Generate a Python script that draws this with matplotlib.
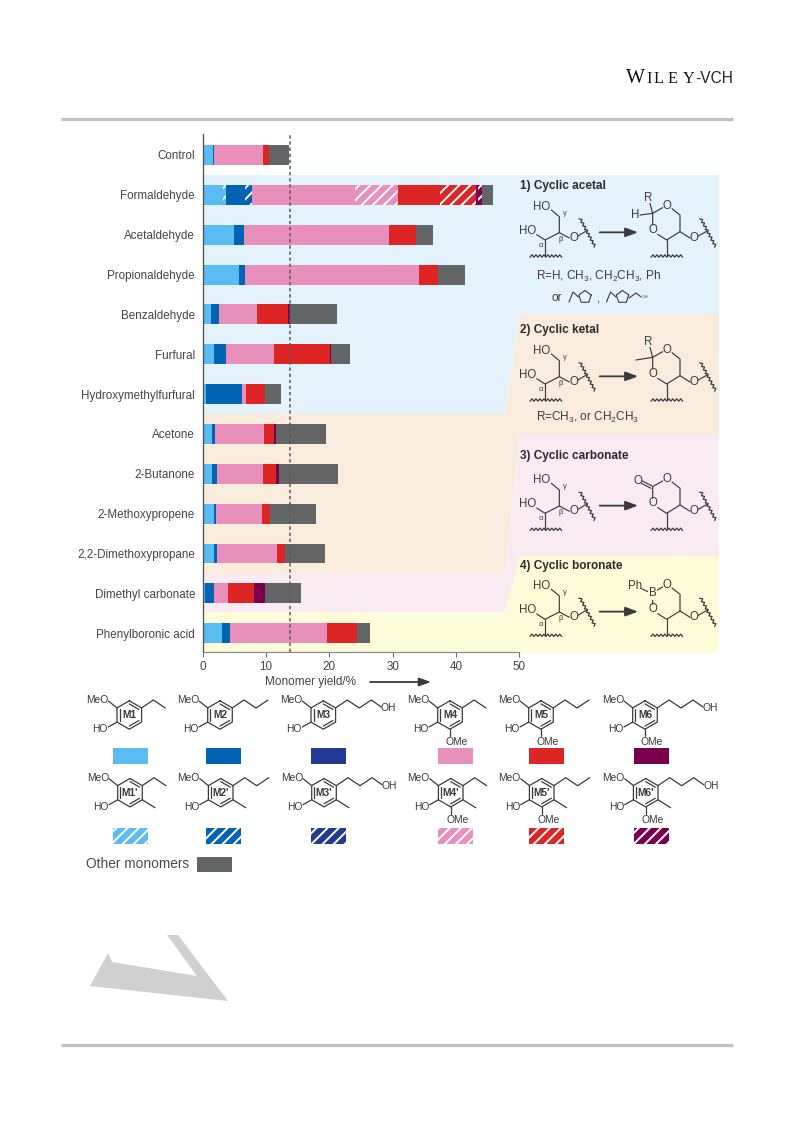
import numpy as np
import matplotlib
matplotlib.use('Agg')
import matplotlib.pyplot as plt
from matplotlib.patches import Polygon, Rectangle

plt.rcParams['font.family'] = ['Liberation Sans', 'DejaVu Sans']
plt.rcParams['mathtext.default'] = 'regular'
plt.rcParams['hatch.linewidth'] = 1.4

W, H = 793, 1121
DARK = '#3a3a3c'
HATCH = '///'

categories = ['Control', 'Formaldehyde', 'Acetaldehyde', 'Propionaldehyde', 'Benzaldehyde',
              'Furfural', 'Hydroxymethylfurfural', 'Acetone', '2-Butanone', '2-Methoxypropene',
              '2,2-Dimethoxypropane', 'Dimethyl carbonate', 'Phenylboronic acid']

# segment widths, monomer yield in %
m1 = [1.55, 3.25, 4.9, 5.8, 1.3, 1.75, 0.6, 1.45, 1.45, 1.75, 1.75, 0.4, 3.0]
m1p = [0, 0.45, 0, 0, 0, 0, 0, 0, 0, 0, 0, 0, 0]
m2 = [0.2, 3.0, 1.7, 0.9, 1.2, 1.95, 5.6, 0.55, 0.85, 0.4, 0.55, 1.35, 1.3]
m2p = [0, 1.1, 0, 0, 0, 0, 0, 0, 0, 0, 0, 0, 0]
m4 = [7.75, 16.25, 22.9, 27.5, 6.1, 7.55, 0.7, 7.65, 7.2, 7.25, 9.5, 2.3, 15.3]
m4p = [0, 6.75, 0, 0, 0, 0, 0, 0, 0, 0, 0, 0, 0]
m5 = [1.0, 6.65, 4.2, 3.0, 4.95, 8.8, 2.9, 1.6, 2.05, 1.25, 1.2, 4.05, 4.8]
m5p = [0, 5.75, 0, 0, 0, 0, 0, 0, 0, 0, 0, 0, 0]
m6 = [0, 0.25, 0, 0, 0.25, 0.25, 0, 0.4, 0.55, 0, 0, 1.8, 0]
m6p = [0, 0.6, 0, 0, 0, 0, 0, 0, 0, 0, 0, 0, 0]
other = [3.1, 1.75, 2.7, 4.2, 7.4, 2.9, 2.6, 7.8, 9.2, 7.2, 6.3, 5.55, 2.1]
control_yield = 13.76

C_M1, C_M2, C_M3, C_M4, C_M5, C_M6 = '#5bbcf2', '#0063b4', '#233a95', '#e88fbb', '#de2525', '#7a004e'
C_OTHER = '#636466'

series = [(m1, C_M1, False), (m1p, C_M1, True), (m2, C_M2, False), (m2p, C_M2, True),
          (m4, C_M4, False), (m4p, C_M4, True), (m5, C_M5, False), (m5p, C_M5, True),
          (m6, C_M6, False), (m6p, C_M6, True), (other, C_OTHER, False)]

fig = plt.figure(figsize=(W / 100, H / 100), dpi=100)

# page layer in pixel coordinates, for everything that is not the bar chart
pg = fig.add_axes([0, 0, 1, 1], zorder=0)
pg.set_xlim(0, W)
pg.set_ylim(H, 0)
pg.axis('off')

pg.plot([61, 733], [119, 119], color='#c0c0c0', lw=2.3, solid_capstyle='butt')
pg.plot([61, 733], [1045, 1045], color='#c0c0c0', lw=2.3, solid_capstyle='butt')
pg.text(626, 83, 'W', family='Liberation Serif', fontsize=14.5, color='#111111', va='baseline')
for lx, letter in zip([646, 654, 668, 683], 'ILEY'):
    pg.text(lx, 83, letter, family='Liberation Serif', fontsize=11.8, color='#111111', va='baseline')
pg.text(733, 83, '-VCH', fontsize=11.2, color='#222222', va='baseline', ha='right')

# grey watermark fragment
pg.add_patch(Polygon([(167, 935), (178, 935), (228, 1001), (90, 986), (108, 953), (112, 962),
                      (197, 976)], fc='#cfd0cf', ec='none'))

# coloured bands behind the chart and the scheme
pg.add_patch(Polygon([(203, 175), (719, 175), (719, 314), (520, 314), (505, 414), (203, 414)],
                     fc='#e4f3fb', ec='none'))
pg.add_patch(Polygon([(203, 414), (505, 414), (520, 314), (719, 314), (719, 435), (520, 435),
                      (505, 574), (203, 574)], fc='#faecdc', ec='none'))
pg.add_patch(Polygon([(203, 574), (505, 574), (520, 435), (719, 435), (719, 556), (520, 556),
                      (505, 612), (203, 612)], fc='#faebf3', ec='none'))
pg.add_patch(Polygon([(203, 612), (505, 612), (520, 556), (719, 556), (719, 653), (203, 653)],
                     fc='#fefcd8', ec='none'))


def bond(pts, lw=0.85, color=DARK):
    pts = np.array(pts, dtype=float)
    pg.plot(pts[:, 0], pts[:, 1], color=color, lw=lw, solid_capstyle='round', solid_joinstyle='round')


def wavy(p0, p1, n=8, amp=1.2):
    p0, p1 = np.array(p0, float), np.array(p1, float)
    t = np.linspace(0, 1, 2 * n + 1)
    d = p1 - p0
    nrm = np.array([-d[1], d[0]]) / np.hypot(*d)
    sign = np.where(np.arange(2 * n + 1) % 2 == 0, 1, -1)
    pts = p0 + np.outer(t, d) + np.outer(sign * amp, nrm)
    bond(pts, lw=0.9)


def atom(x, y, s, size=8.3, **kw):
    pg.text(x, y, s, fontsize=size, color=DARK, ha='center', va='center', **kw)


def scheme(dy, title, kind, title_y):
    def z(x, y):
        return 510 + x / 3, 170 + y / 3 + dy

    pg.text(520, title_y, title, fontsize=8.5, fontweight='bold', color='#2a2a2c', va='center')
    # diol on the left
    atom(*z(95, 110), 'HO')
    atom(*z(52, 182), 'HO')
    bond([z(124, 120), z(148, 140), z(148, 188), z(105, 210), z(80, 194)])
    bond([z(148, 188), z(178, 204)])
    atom(*z(192, 203), 'O')
    bond([z(204, 198), z(232, 181)])
    wavy(z(210, 145), z(255, 230))
    bond([z(105, 210), z(105, 256)])
    wavy(z(60, 258), z(155, 258))
    atom(*z(165, 130), 'γ', size=5.5)
    atom(*z(92, 226), 'α', size=5.5)
    atom(*z(153, 208), 'β', size=5.5)
    pg.annotate('', xy=z(384, 187), xytext=z(269, 187),
                arrowprops=dict(arrowstyle='-|>,head_length=0.75,head_width=0.28', color=DARK,
                                lw=1.3, shrinkA=0, shrinkB=0))
    # ring on the right
    atom(*z(472, 108), 'O')
    atom(*z(428, 180), 'O')
    bond([z(428, 165), z(428, 130), z(458, 113)])
    bond([z(486, 116), z(510, 135), z(510, 185), z(470, 210), z(443, 193)])
    bond([z(510, 185), z(540, 204)])
    atom(*z(553, 203), 'O')
    bond([z(565, 198), z(593, 182)])
    wavy(z(572, 145), z(617, 230))
    bond([z(470, 210), z(470, 256)])
    wavy(z(423, 258), z(518, 258))
    if kind == 'acetal':
        atom(*z(415, 85), 'R')
        atom(*z(377, 134), 'H')
        bond([z(420, 100), z(428, 130)])
        bond([z(390, 135), z(428, 130)])
    elif kind == 'ketal':
        atom(*z(415, 85), 'R')
        bond([z(420, 100), z(428, 130)])
        bond([z(378, 138), z(428, 130)])
    elif kind == 'carbonate':
        atom(*z(383, 112), 'O')
        bond([z(397, 113), z(426, 128)])
        bond([z(394, 120), z(423, 135)])
    else:
        atom(*z(375, 110), 'Ph')
        atom(*z(428, 132), 'B', bbox=dict(fc='#fefcd8', ec='none', pad=0.6))
        bond([z(394, 118), z(416, 128)])


scheme(0, '1) Cyclic acetal', 'acetal', 186)
scheme(144, '2) Cyclic ketal', 'ketal', 330)
scheme(273.3, '3) Cyclic carbonate', 'carbonate', 455.5)
scheme(379.3, '4) Cyclic boronate', 'boronate', 566)

pg.text(536, 276, 'R=H, CH$_3$, CH$_2$CH$_3$, Ph', fontsize=8.5, color=DARK, va='center')
pg.text(551, 298, 'or', fontsize=8.5, color=DARK, va='center')
pg.text(597, 300, ',', fontsize=8.5, color=DARK, va='center')
pg.text(536, 417, 'R=CH$_3$, or CH$_2$CH$_3$', fontsize=8.5, color=DARK, va='center')


def furan(cx, cy):
    ang = np.radians([-90, -18, 54, 126, 198])
    ring = [(cx + 6.5 * np.cos(a), cy + 6.5 * np.sin(a)) for a in ang]
    bond(ring[1:] + [ring[0], ring[1]], lw=0.8)
    bond([(cx - 16, cy + 5), (cx - 12, cy - 5), (cx - 6.5, cy)], lw=0.8)


furan(585, 297)
furan(622.5, 297)
bond([(629, 298), (636, 293), (641, 297)], lw=0.8)
atom(645, 297.5, 'OH', size=3.2)


# legend molecules, offsets measured from the ring centre
def monomer(cx, cy, label, chain, ome, methyl):
    r = 14.2
    ang = np.radians([-90, -30, 30, 90, 150, 210])
    v = [(cx + r * np.cos(a), cy + r * np.sin(a)) for a in ang]
    bond(v + [v[0]], lw=0.9)
    r2 = 0.78
    for i, j in [(1, 0), (2, 3), (4, 5)]:
        a = (cx + (v[i][0] - cx) * r2, cy + (v[i][1] - cy) * r2)
        b = (cx + (v[j][0] - cx) * r2, cy + (v[j][1] - cy) * r2)
        bond([a, b], lw=0.9)
    pg.text(cx, cy, label, fontsize=7.4, fontweight='bold', color=DARK, ha='center', va='center')
    atom(cx - 32, cy - 15, 'MeO', size=7.4)
    atom(cx - 29, cy + 14, 'HO', size=7.4)
    bond([(cx - 21, cy - 14), v[5]], lw=0.9)
    bond([(cx - 21, cy + 12), v[4]], lw=0.9)
    p = [v[1], (cx + 24, cy - 15), (cx + 36, cy - 7)]
    if chain >= 2:
        p.append((cx + 48, cy - 15))
    if chain >= 3:
        p.append((cx + 58, cy - 8))
        atom(cx + 65, cy - 7, 'OH', size=7.4)
    bond(p, lw=0.9)
    if ome:
        bond([v[3], (cx, cy + 21)], lw=0.9)
        atom(cx + 7, cy + 27, 'OMe', size=7.4)
    if methyl:
        bond([v[2], (cx + 25, cy + 15)], lw=0.9)


row_x = [129.3, 220, 323.3, 450, 541, 645]
row_colors = [C_M1, C_M2, C_M3, C_M4, C_M5, C_M6]
swatch_x = [113, 206, 311, 438, 529, 634]
for i in range(6):
    chain = i % 3 + 1
    monomer(row_x[i], 715, f'M{i + 1}', chain, i >= 3, False)
    monomer(row_x[i] + 0.7, 792.7, f"M{i + 1}'", chain, i >= 3, True)
    pg.add_patch(Rectangle((swatch_x[i], 748), 35, 16, fc=row_colors[i], ec='none'))
    pg.add_patch(Rectangle((swatch_x[i], 828), 35, 16, fc=row_colors[i], ec='white', lw=0, hatch=HATCH))
pg.text(86, 864, 'Other monomers', fontsize=9.9, color='#4a4a4c', va='center')
pg.add_patch(Rectangle((197, 857), 35, 15, fc=C_OTHER, ec='none'))

pg.annotate('', xy=(431, 682), xytext=(370, 682),
            arrowprops=dict(arrowstyle='-|>,head_length=0.7,head_width=0.25', color=DARK, lw=1.3,
                            shrinkA=0, shrinkB=0))

# bar chart
ax = fig.add_axes([202.7 / W, 1 - 652.3 / H, 316.6 / W, 518.3 / H], zorder=1)
ax.patch.set_alpha(0)
y = np.arange(len(categories))
left = np.zeros(len(categories))
for values, color, hatched in series:
    values = np.array(values)
    if hatched:
        ax.barh(y, values, left=left, height=0.5, color=color, edgecolor='white', linewidth=0, hatch=HATCH)
    else:
        ax.barh(y, values, left=left, height=0.5, color=color)
    left = left + values
ax.axvline(control_yield, color='#58595b', lw=1.1, ls=(0, (2.2, 1.8)))
ax.set_xlim(0, 50)
ax.set_ylim(12.48, -0.527)
ax.set_yticks(y)
ax.set_yticklabels(categories, fontsize=8.4, color='#454547')
ax.tick_params(axis='y', length=0, pad=5.5)
ax.set_xticks(np.arange(0, 51, 10))
ax.tick_params(axis='x', length=3.5, width=0.8, color='#6d6e70', labelsize=8.4, labelcolor='#454547', pad=2.5)
for s in ['top', 'right']:
    ax.spines[s].set_visible(False)
ax.spines['left'].set_color('#4a4a4c')
ax.spines['bottom'].set_color('#8a8b8d')
ax.spines['left'].set_linewidth(0.9)
ax.spines['bottom'].set_linewidth(0.9)
ax.set_xlabel('Monomer yield/%', fontsize=8.5, color='#454547')
ax.xaxis.set_label_coords(0.34, -0.0455)

fig.savefig('out.png', dpi=100)
